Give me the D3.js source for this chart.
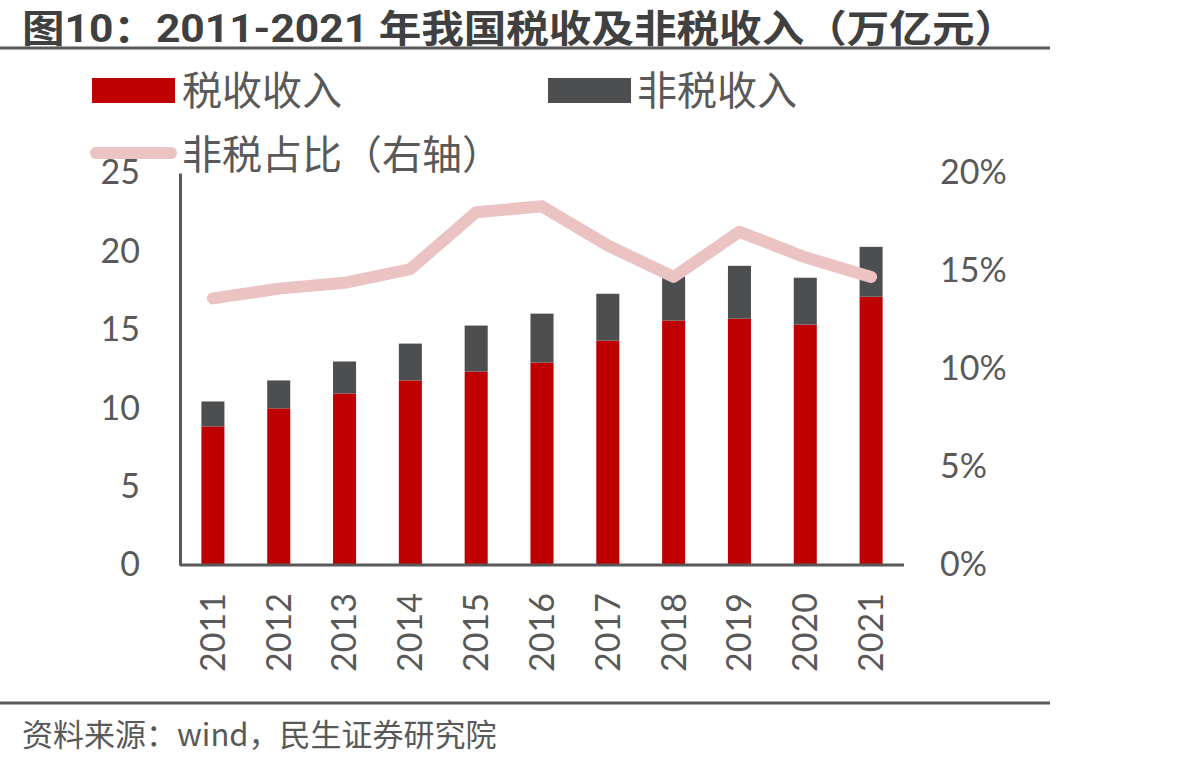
<!DOCTYPE html>
<html>
<head>
<meta charset="utf-8">
<script src="https://cdn.jsdelivr.net/npm/d3@7"></script>
<style>
  body { margin: 0; background: #fff; }
  svg text { font-family: Lato, "Noto Sans CJK SC", sans-serif; }
</style>
</head>
<body>
<svg id="chart" width="1199" height="765"></svg>
<script>
// data (万亿元)
const years = ["2011", "2012", "2013", "2014", "2015", "2016", "2017", "2018", "2019", "2020", "2021"];
const taxRevenue = [8.84, 9.99, 10.94, 11.77, 12.34, 12.91, 14.31, 15.59, 15.71, 15.33, 17.11];
const nonTaxRevenue = [1.59, 1.78, 2.04, 2.35, 2.93, 3.12, 2.99, 2.79, 3.37, 2.99, 3.18];
const nonTaxShare = [0.136, 0.141, 0.144, 0.151, 0.180, 0.183, 0.163, 0.147, 0.170, 0.157, 0.147];
const leftTicks = [0, 5, 10, 15, 20, 25];
const rightTicks = [0, 0.05, 0.10, 0.15, 0.20];

const titleText = "图10：2011-2021 年我国税收及非税收入（万亿元）";
const sourceText = "资料来源：wind，民生证券研究院";

const red = "#C00000", grey = "#4D4E50", pink = "#EBC3C3", textCol = "#595959";
const margin = {top: 173, right: 295, bottom: 199, left: 180};
const width = 1199, height = 765;
const plotRight = 904;

const svg = d3.select("#chart");

// title + rules
svg.append("text")
   .attr("x", 22).attr("y", 42)
   .attr("textLength", 995).attr("lengthAdjust", "spacingAndGlyphs")
   .style("font-family", "Roboto, 'Noto Sans CJK SC', sans-serif")
   .style("font-weight", "bold").style("font-size", "38px")
   .attr("fill", "#404040")
   .text(titleText);
svg.append("line").attr("x1", 0).attr("x2", 1050).attr("y1", 48).attr("y2", 48)
   .attr("stroke", textCol).attr("stroke-width", 3);
svg.append("line").attr("x1", 0).attr("x2", 1050).attr("y1", 703).attr("y2", 703)
   .attr("stroke", textCol).attr("stroke-width", 3);
svg.append("text")
   .attr("x", 22).attr("y", 746)
   .style("font-family", "'Noto Sans CJK SC', sans-serif")
   .style("font-size", "31px")
   .attr("fill", textCol)
   .text(sourceText);

// legend
const legendFont = "'Noto Sans CJK SC', sans-serif";
svg.append("rect").attr("x", 92).attr("y", 78).attr("width", 83).attr("height", 25).attr("fill", red);
svg.append("text").attr("x", 182).attr("y", 105).style("font-family", legendFont)
   .style("font-size", "40px").attr("fill", textCol).text("税收收入");
svg.append("rect").attr("x", 548).attr("y", 78).attr("width", 83).attr("height", 25).attr("fill", grey);
svg.append("text").attr("x", 637).attr("y", 105).style("font-family", legendFont)
   .style("font-size", "40px").attr("fill", textCol).text("非税收入");
svg.append("line").attr("x1", 96).attr("x2", 171).attr("y1", 153).attr("y2", 153)
   .attr("stroke", pink).attr("stroke-width", 12).attr("stroke-linecap", "round");
svg.append("text").attr("x", 182).attr("y", 169).style("font-family", legendFont)
   .style("font-size", "40px").attr("fill", textCol).text("非税占比（右轴）");

// scales
const x = d3.scaleBand()
   .domain(years)
   .range([margin.left, plotRight])
   .paddingInner(0.65).paddingOuter(0.325);
const y = d3.scaleLinear().domain([0, 25]).range([height - margin.bottom - 1, margin.top]);
const y2 = d3.scaleLinear().domain([0, 0.20]).range([height - margin.bottom - 1, margin.top]);

// bars
const g = svg.append("g");
g.selectAll("rect.tax")
   .data(taxRevenue)
   .join("rect")
   .attr("class", "tax")
   .attr("x", (d, i) => x(years[i]))
   .attr("width", x.bandwidth())
   .attr("y", d => y(d))
   .attr("height", d => y(0) - y(d))
   .attr("fill", red);
g.selectAll("rect.nontax")
   .data(nonTaxRevenue)
   .join("rect")
   .attr("class", "nontax")
   .attr("x", (d, i) => x(years[i]))
   .attr("width", x.bandwidth())
   .attr("y", (d, i) => y(taxRevenue[i] + d))
   .attr("height", (d, i) => y(taxRevenue[i]) - y(taxRevenue[i] + d))
   .attr("fill", grey);

// axes
const leftAxis = svg.append("g")
   .attr("transform", `translate(${margin.left},0)`)
   .call(d3.axisLeft(y).tickValues(leftTicks).tickSize(0).tickPadding(40));
leftAxis.select(".domain").attr("stroke", textCol).attr("stroke-width", 3);
leftAxis.selectAll("text").style("font-size", "34px").attr("fill", textCol);

const rightAxis = svg.append("g")
   .attr("transform", `translate(${width - margin.right},0)`)
   .call(d3.axisRight(y2).tickValues(rightTicks).tickSize(0).tickPadding(36)
      .tickFormat(d3.format(".0%")));
rightAxis.select(".domain").remove();
rightAxis.selectAll("text").style("font-size", "34px").attr("fill", textCol);

const bottomAxis = svg.append("g")
   .attr("transform", `translate(0,${y(0)})`)
   .call(d3.axisBottom(x).tickSize(0).tickSizeOuter(0));
bottomAxis.select(".domain")
   .attr("d", `M${margin.left},0H${plotRight}`)
   .attr("stroke", textCol).attr("stroke-width", 3);
bottomAxis.selectAll("text")
   .attr("transform", "rotate(-90)")
   .attr("x", -28).attr("y", 0).attr("dy", "0.35em")
   .style("text-anchor", "end")
   .style("font-size", "34px").attr("fill", textCol);

// share line on right axis
const line = d3.line()
   .x((d, i) => x(years[i]) + x.bandwidth() / 2)
   .y(d => y2(d));
svg.append("path")
   .datum(nonTaxShare)
   .attr("d", line)
   .attr("fill", "none")
   .attr("stroke", pink)
   .attr("stroke-width", 12)
   .attr("stroke-linecap", "round")
   .attr("stroke-linejoin", "round");
</script>
</body>
</html>
